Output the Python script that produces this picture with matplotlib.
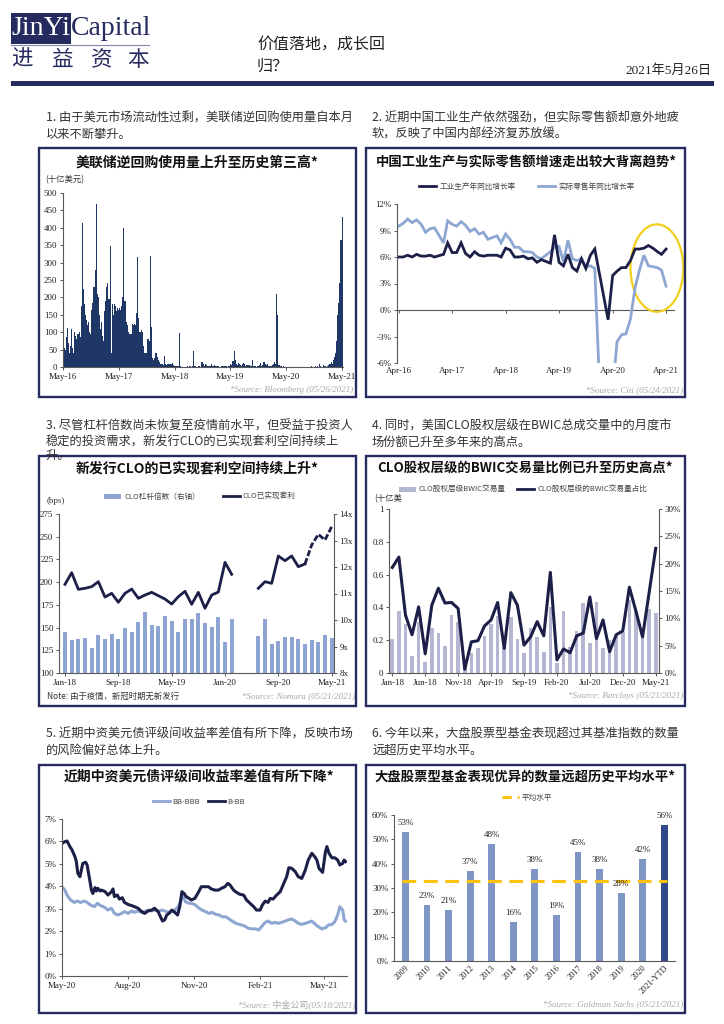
import numpy as np
import pandas as pd
import matplotlib
matplotlib.use('Agg')
import matplotlib.pyplot as plt
from matplotlib.patches import Rectangle, Ellipse, Patch
from matplotlib.lines import Line2D

plt.rcParams['font.family'] = ['Noto Sans CJK SC', 'DejaVu Sans']
plt.rcParams['axes.unicode_minus'] = False
CJK = ['Noto Sans CJK SC', 'DejaVu Sans']
SERIF = ['Liberation Serif', 'Noto Sans CJK SC', 'DejaVu Serif']

# ---------------- DATA ----------------
# Panel 1: Fed reverse repo usage (bn USD), weekly from May-2016
rrp_values = [
    40, 55, 50, 85, 113, 70, 40, 60, 110, 55,
    40, 100, 90, 80, 95, 100, 85, 175, 413, 225,
    180, 150, 135, 120, 130, 100, 95, 165, 185, 230,
    280, 468, 210, 200, 150, 110, 130, 90, 75, 160,
    190, 230, 240, 195, 347, 40, 180, 150, 180, 175,
    160, 170, 165, 170, 165, 175, 200, 398, 190, 130,
    120, 100, 95, 95, 95, 125, 120, 125, 120, 155,
    315, 140, 100, 105, 100, 60, 40, 40, 40, 80,
    80, 75, 320, 115, 25, 20, 25, 40, 30, 20,
    15, 10, 8, 10, 5, 32, 10, 5, 8, 10,
    8, 10, 12, 5, 3, 2, 2, 2, 2, 98,
    2, 1, 1, 1, 1, 1, 2, 1, 3, 2,
    1, 2, 45, 3, 2, 1, 1, 2, 3, 1,
    15, 8, 3, 10, 5, 2, 3, 2, 4, 10,
    3, 2, 5, 3, 2, 2, 1, 1, 2, 3,
    2, 3, 2, 2, 1, 2, 3, 8, 5, 18,
    45, 20, 10, 5, 12, 8, 5, 3, 8, 12,
    10, 4, 6, 7, 5, 3, 2, 20, 3, 2,
    2, 1, 2, 2, 5, 12, 3, 5, 15, 10,
    5, 10, 3, 2, 2, 3, 5, 8, 15, 10,
    210, 150, 5, 3, 2, 1, 2, 1, 1, 1,
    1, 1, 1, 1, 0, 1, 1, 1, 1, 1,
    1, 1, 1, 0, 1, 1, 1, 0, 1, 1,
    1, 1, 2, 1, 1, 1, 2, 1, 2, 1,
    8, 2, 1, 1, 5, 3, 1, 2, 5, 10,
    8, 15, 10, 20, 30, 40, 75, 150, 185, 240, 365, 432]
rrp_ticks = ['2016-05-01', '2017-05-01', '2018-05-01', '2019-05-01', '2020-05-01', '2021-05-01']
rrp_tick_labels = ['May-16', 'May-17', 'May-18', 'May-19', 'May-20', 'May-21']

# Panel 2: China IP yoy vs real retail sales yoy (%), monthly Apr-16 .. Apr-21
ip_yoy = [6.0, 6.0, 6.2, 6.0, 6.3, 6.1, 6.1, 6.2, 6.0,
          None, 6.3, 7.6, 6.5, 6.5, 7.6, 6.4, 6.0, 6.6, 6.2, 6.1, 6.2,
          None, 6.2, 6.0, 7.0, 6.8, 6.0, 6.0, 6.1, 5.8, 5.9, 5.4, 5.7,
          None, 5.3, 8.5, 5.4, 5.0, 6.3, 4.8, 4.4, 5.8, 4.7, 6.2, 6.9,
          None, None, -1.1, 3.9, 4.4, 4.8, 4.8, 5.6, 6.9, 6.9, 7.0, 7.3,
          7.0, 6.6, 6.3, 6.9]
retail_yoy = [9.5, 9.8, 10.3, 9.9, 10.2, 9.7, 8.8, 9.2, 9.3,
              None, 7.6, 10.1, 9.7, 9.5, 10.0, 9.6, 8.9, 9.2, 8.6, 8.8, 8.0,
              None, 8.4, 7.6, 8.6, 8.0, 7.1, 7.1, 6.6, 6.6, 6.5, 6.0, 5.8,
              None, 6.6, 7.1, 7.2, 5.5, 7.9, 5.8, 5.6, 5.8, 4.9, 5.0, 4.7,
              None, -20.5, -18.1, -9.1, -3.6, -2.8, -2.7, -1.0, 2.5, 4.5, 6.2, 5.0,
              4.9, 4.8, 4.5, 2.7]
china_ticks = ['2016-04-01', '2017-04-01', '2018-04-01', '2019-04-01', '2020-04-01', '2021-04-01']
china_tick_labels = ['Apr-16', 'Apr-17', 'Apr-18', 'Apr-19', 'Apr-20', 'Apr-21']
china_ticks_y = [-6, -3, 0, 3, 6, 9, 12]

# Panel 3: CLO leverage (x, right) and realized arbitrage (bps), monthly Jan-18 .. May-21
nan = np.nan
clo_leverage = [9.56, 9.23, 9.27, 9.32, 8.96, 9.42, 9.30, 9.46, 9.27, 9.71, 9.53, 9.94, 10.31,
                9.80, 9.79, 10.15, 9.95, 9.53, 10.04, 10.03, 10.26, 9.90, 9.74, 10.10, 9.18, 10.03,
                nan, nan, nan,
                9.40, 10.03, 9.09, 9.22, 9.35, 9.35, 9.30, 9.11, 9.26, 9.16, 9.42, 9.31]
clo_arb = [197.6, 210.4, 192.1, 193.2, 195.0, 200.5, 183.6, 187.7, 177.8, 187.7, 192.4, 182.2, 185.8,
           188.8, 185.1, 181.4, 175.9, 184.0, 189.9, 175.6, 188.8, 171.2, 185.8, 189.1, 221.8, 208.6,
           nan, nan, nan,
           193.2, 200.5, 198.7, 228.8, 223.6, 228.8, 217.0, 220.0, 240.9, 252.6, 246.4, 261.0]
clo_tick_idx = [0, 8, 16, 24, 32, 40]
clo_tick_labels = ['Jan-18', 'Sep-18', 'May-19', 'Jan-20', 'Sep-20', 'May-21']

# Panel 4: CLO equity BWIC volume (bn USD) and share (%), monthly Jan-18 .. May-21
bwic_vol = [0.205, 0.378, 0.30, 0.104, 0.31, 0.07, 0.276, 0.246, 0.167, 0.354,
            0.313, 0.04, 0.12, 0.152, 0.226, 0.30, 0.35, 0.15, 0.343, 0.207,
            0.12, 0.276, 0.22, 0.126, 0.40, 0.063, 0.378, 0.16, 0.258, 0.425,
            0.185, 0.435, 0.15, 0.20, 0.226, 0.25, 0.445, 0.38, 0.22, 0.388,
            0.368]
bwic_share = [19.3, 21.2, 10.6, 7.0, 12.1, 3.5, 12.4, 15.5, 12.8, 12.9,
              11.8, 0.7, 5.7, 5.9, 8.6, 9.7, 12.9, 4.5, 14.7, 12.4,
              5.1, 6.6, 9.4, 6.8, 18.4, 2.4, 4.4, 3.7, 6.8, 7.3,
              13.9, 6.3, 9.7, 3.9, 7.0, 7.7, 15.7, 11.3, 6.6, 14.7,
              22.8]
bwic_tick_idx = [0, 5, 10, 15, 20, 25, 30, 35, 40]
bwic_tick_labels = ['Jan-18', 'Jun-18', 'Nov-18', 'Apr-19', 'Sep-19', 'Feb-20', 'Jul-20', 'Dec-20', 'May-21']

# Panel 5: Chinese USD bond rating spreads (%), days since 2020-05-01
bbb_days = [0, 4, 7, 12, 17, 21, 26, 31, 35, 40, 45, 49, 54, 60, 64, 69, 73, 78, 83, 87,
            92, 97, 101, 106, 111, 115, 120, 125, 129, 134, 139, 143, 148, 153, 157, 162, 166, 169, 172, 177,
            181, 186, 191, 195, 200, 205, 209, 214, 219, 223, 228, 233, 237, 242, 247, 251, 256, 260, 265, 270,
            274, 278, 283, 287, 292, 297, 301, 306, 311, 315, 320, 325, 329, 334, 339, 343, 348, 353, 357, 362,
            367, 371, 376, 380, 384, 387, 391, 393, 395]
bb_bbb = [3.98, 3.83, 3.61, 3.39, 3.28, 3.34, 3.28, 3.34, 3.28, 3.16,
          3.09, 3.24, 3.14, 3.05, 2.94, 3.02, 2.79, 2.72, 2.79, 2.87,
          2.79, 2.90, 2.84, 2.90, 2.84, 2.87, 2.94, 2.90, 2.94, 2.87,
          2.94, 2.90, 2.84, 2.87, 2.94, 3.09, 3.39, 3.54, 3.31, 3.24,
          3.24, 3.16, 3.02, 2.94, 2.87, 2.79, 2.84, 2.75, 2.72, 2.64,
          2.64, 2.54, 2.45, 2.35, 2.30, 2.27, 2.20, 2.12, 2.10, 2.10,
          2.05, 2.20, 2.39, 2.45, 2.35, 2.39, 2.35, 2.39, 2.45, 2.50,
          2.54, 2.45, 2.35, 2.30, 2.35, 2.39, 2.45, 2.30, 2.20, 2.10,
          2.15, 2.27, 2.30, 2.42, 2.72, 3.09, 2.94, 2.50, 2.45]
bb_days = [0, 4, 7, 11, 14, 18, 20, 22, 25, 27, 29, 33, 35, 39, 41, 43, 46, 48, 50, 53,
           55, 60, 64, 69, 71, 73, 77, 80, 84, 87, 92, 97, 101, 106, 111, 115, 120, 125, 129, 134,
           136, 140, 143, 146, 149, 153, 157, 161, 164, 167, 170, 173, 177, 180, 185, 190, 194, 199, 204, 208,
           213, 218, 222, 227, 231, 234, 239, 243, 248, 253, 257, 262, 267, 271, 276, 279, 283, 287, 290, 294,
           299, 304, 308, 313, 316, 320, 325, 329, 334, 339, 343, 348, 352, 355, 358, 363, 367, 369, 372, 376,
           380, 384, 387, 391, 393, 395]
b_bb = [5.91, 5.99, 6.02, 5.77, 5.62, 5.32, 5.10, 4.58, 4.43, 4.73,
        5.02, 5.07, 4.95, 4.21, 3.83, 3.68, 3.94, 3.79, 3.91, 3.79,
        3.83, 3.76, 3.61, 3.76, 3.88, 3.54, 3.61, 3.43, 3.49, 3.28,
        3.19, 3.14, 3.09, 3.02, 2.87, 2.79, 2.90, 2.94, 3.02, 2.87,
        2.72, 2.45, 2.50, 2.72, 2.79, 2.94, 2.84, 2.72, 3.09, 3.76,
        3.68, 3.54, 3.46, 3.39, 3.46, 3.73, 3.98, 3.98, 3.98, 3.88,
        3.83, 3.83, 3.91, 3.98, 4.13, 4.06, 3.83, 3.73, 3.64, 3.61,
        3.39, 3.24, 3.09, 2.94, 2.94, 3.16, 3.34, 3.28, 3.46, 3.43,
        3.61, 3.76, 4.06, 4.43, 4.83, 4.80, 4.65, 4.43, 4.35, 4.73,
        5.17, 5.47, 5.32, 5.17, 4.80, 4.62, 5.54, 5.77, 5.47, 5.27,
        5.27, 5.17, 4.95, 5.02, 5.17, 5.10]
spread_ticks = ['2020-05-01', '2020-08-01', '2020-11-01', '2021-02-01', '2021-05-01']
spread_tick_labels = ['May-20', 'Aug-20', 'Nov-20', 'Feb-21', 'May-21']

# Panel 6: share of large-cap funds beating benchmark (%)
fund_years = ['2009', '2010', '2011', '2012', '2013', '2014', '2015', '2016', '2017', '2018', '2019', '2020', '2021-YTD']
fund_pct = [53, 23, 21, 37, 48, 16, 38, 19, 45, 38, 28, 42, 56]
fund_avg = 33

# ---------------- STYLE ----------------
NAVY = '#252B5F'
DARK = '#1C1F48'
LIGHT = '#8EA7D2'
AXC = '#595959'
SRC = '#A8A8A8'
W, H = 724, 1024

fig = plt.figure(figsize=(7.24, 10.24), dpi=100)


def rect(x0, y0, x1, y1):
    return [x0 / W, 1 - y1 / H, (x1 - x0) / W, (y1 - y0) / H]


def ftext(x, y, s, **kw):
    kw.setdefault('va', 'center')
    return fig.text(x / W, 1 - y / H, s, **kw)


def box(x0, y0, x1, y1, lw=1.6, ec=NAVY, fc='none', z=1):
    fig.add_artist(Rectangle((x0 / W, 1 - y1 / H), (x1 - x0) / W, (y1 - y0) / H,
                             transform=fig.transFigure, fill=(fc != 'none'), fc=fc,
                             ec=ec, lw=lw, zorder=z))


def style(ax, left=True, bottom=True, right=False):
    for s in ['top', 'right', 'left', 'bottom']:
        ax.spines[s].set_visible(False)
    if left:
        ax.spines['left'].set_visible(True)
    if bottom:
        ax.spines['bottom'].set_visible(True)
    if right:
        ax.spines['right'].set_visible(True)
    for s in ax.spines.values():
        s.set_color(AXC)
        s.set_linewidth(0.8)
    ax.tick_params(labelsize=6.5, labelfontfamily='Liberation Serif', labelcolor='#222222',
                   color=AXC, length=2.5, width=0.7, pad=1.5)
    ax.set_facecolor('none')


def legend_at(ax, handles, labels, cx, cy, colsp=2.5, hl=2.2):
    leg = ax.legend(handles, labels, loc='center', bbox_to_anchor=(cx / W, 1 - cy / H),
                    bbox_transform=fig.transFigure, ncol=len(handles), frameon=False,
                    prop={'family': CJK, 'size': 5.5}, handlelength=hl, columnspacing=colsp,
                    handletextpad=0.4, borderaxespad=0)
    for t in leg.get_texts():
        t.set_color('#444444')
    return leg


def title(cx, cy, s, size=10):
    ftext(cx, cy, s, ha='center', fontsize=size, fontweight='bold', color='#111111')


def source(x, y, s):
    ftext(x, y, s, ha='right', fontsize=6.5, style='italic', color=SRC, family=SERIF)


# ---------------- HEADER ----------------
box(11, 12.5, 71, 43.5, lw=0, ec=NAVY, fc=NAVY)
ftext(41, 28.5, 'JinYi', ha='center', fontsize=20, color='white', family=SERIF)
ftext(71, 28.5, 'Capital', ha='left', fontsize=20, color=NAVY, family=SERIF)
fig.add_artist(Line2D([11 / W, 149 / W], [1 - 45 / H, 1 - 45 / H], transform=fig.transFigure,
                      color='#8088AA', lw=0.8))
for cx, ch in zip([22, 63, 102, 138], ['进', '益', '资', '本']):
    ftext(cx, 60, ch, ha='center', fontsize=15.5, color=NAVY)
ftext(257, 45, '价值落地，成长回', ha='left', fontsize=11.5, color='#222222')
ftext(257, 66, '归？', ha='left', fontsize=11.5, color='#222222')
ftext(712, 71, '2021年5月26日', ha='right', fontsize=9.5, color='#222222', family=SERIF)
box(11, 81, 714, 86, lw=0, ec=NAVY, fc=NAVY)

BODY = dict(ha='left', fontsize=8.8, color='#333333')
ftext(46, 118, '1. 由于美元市场流动性过剩，美联储逆回购使用量自本月', **BODY)
ftext(46, 134, '以来不断攀升。', **BODY)
ftext(372, 118, '2. 近期中国工业生产依然强劲，但实际零售额却意外地疲', **BODY)
ftext(372, 134, '软，反映了中国内部经济复苏放缓。', **BODY)
ftext(46, 426, '3. 尽管杠杆倍数尚未恢复至疫情前水平，但受益于投资人', **BODY)
ftext(46, 442, '稳定的投资需求，新发行CLO的已实现套利空间持续上', **BODY)
ftext(46, 455, '升。', **BODY)
ftext(372, 426, '4. 同时，美国CLO股权层级在BWIC总成交量中的月度市', **BODY)
ftext(372, 442, '场份额已升至多年来的高点。', **BODY)
ftext(46, 734, '5. 近期中资美元债评级间收益率差值有所下降，反映市场', **BODY)
ftext(46, 750, '的风险偏好总体上升。', **BODY)
ftext(372, 734, '6. 今年以来，大盘股票型基金表现超过其基准指数的数量', **BODY)
ftext(372, 750, '远超历史平均水平。', **BODY)

# panel frames
for (x0, y0, x1, y1) in [(39, 148, 356, 397), (366, 148, 685, 397),
                         (39, 456, 356, 706), (366, 456, 685, 706),
                         (39, 765, 356, 1013), (366, 765, 685, 1013)]:
    box(x0, y0, x1, y1, lw=1.7)

# ---------------- PANEL 1 ----------------
ax1 = fig.add_axes(rect(63, 193, 343, 367))
style(ax1)
rrp_dates = pd.date_range('2016-05-01', periods=len(rrp_values), freq='7D')
ax1.bar(rrp_dates, rrp_values, width=7.0, color='#1F3767', linewidth=0)
ax1.set_ylim(0, 500)
ax1.set_yticks(np.arange(0, 501, 50))
ax1.set_xticks(pd.to_datetime(rrp_ticks), rrp_tick_labels)
ax1.set_xlim(pd.Timestamp('2016-05-01'), pd.Timestamp('2021-05-08'))
title(197, 163, '美联储逆回购使用量上升至历史第三高*')
ftext(45, 180, '(十亿美元)', ha='left', fontsize=6, color='#333333')
source(353, 390, '*Source: Bloomberg (05/26/2021)')

# ---------------- PANEL 2 ----------------
ax2 = fig.add_axes(rect(397, 204, 675, 363))
style(ax2, bottom=False)
months = pd.date_range('2016-04-01', '2021-04-01', freq='MS')
s_ip = pd.Series(ip_yoy, index=months, dtype=float).dropna()
s_rt = pd.Series(retail_yoy, index=months, dtype=float).dropna()
ax2.plot(s_rt.index, s_rt.values, color=LIGHT, lw=2.0, solid_joinstyle='miter')
ax2.plot(s_ip.index, s_ip.values, color=DARK, lw=2.0, solid_joinstyle='miter')
ax2.set_ylim(-6, 12)
ax2.set_yticks(china_ticks_y, [f'{v}%' for v in china_ticks_y])
ct = pd.to_datetime(china_ticks)
ax2.set_xticks(ct, china_tick_labels)
ax2.tick_params(axis='x', length=0, pad=3)
ax2.set_xlim(pd.Timestamp('2016-03-20'), pd.Timestamp('2021-06-01'))
ax2.axhline(0, color=AXC, lw=0.8, zorder=1)
ax2.vlines(ct, -0.35, 0, color=AXC, lw=0.7)
ax2.add_patch(Ellipse((0.935, 0.597), 0.19, 0.55, transform=ax2.transAxes, fill=False,
                      ec='#F2CF1D', lw=1.6, clip_on=False))
title(526, 163, '中国工业生产与实际零售额增速走出较大背离趋势*', size=9.6)
legend_at(ax2, [Line2D([], [], color=DARK, lw=2), Line2D([], [], color=LIGHT, lw=2)],
          ['工业生产年同比增长率', '实际零售年同比增长率'], 527, 187, colsp=3)
source(683, 390, '*Source: Citi (05/24/2021)')

# ---------------- PANEL 3 ----------------
ax3 = fig.add_axes(rect(59, 514, 334, 673))
ax3r = ax3.twinx()
style(ax3, right=False)
style(ax3r, left=False, bottom=False, right=True)
k = np.arange(len(clo_arb))
ax3r.bar(k, clo_leverage, width=0.6, color='#8EA5D3', linewidth=0)
arb = np.array(clo_arb)
ax3.plot(k[:37], arb[:37], color=DARK, lw=2.0)
ax3.plot(k[36:], arb[36:], color=DARK, lw=2.0, ls=(0, (2.2, 0.8)))
ax3.set_zorder(ax3r.get_zorder() + 1)
ax3.set_ylim(100, 275)
ax3.set_yticks(np.arange(100, 276, 25))
ax3r.set_ylim(8, 14)
ax3r.set_yticks(np.arange(8, 15, 1), [f'{v}x' for v in range(8, 15)])
ax3.set_xticks(clo_tick_idx, clo_tick_labels)
ax3.set_xlim(-0.9, 40.35)
title(197, 468, '新发行CLO的已实现套利空间持续上升*')
legend_at(ax3, [Patch(fc='#8EA5D3', ec='none'), Line2D([], [], color=DARK, lw=2)],
          ['CLO杠杆倍数（右轴）', 'CLO已实现套利'], 200, 497, colsp=3)
ftext(47, 501, '(bps)', ha='left', fontsize=6.5, color='#333333', family=SERIF)
ftext(47, 696, 'Note: 由于疫情，新冠时期无新发行', ha='left', fontsize=6, color='#333333')
source(355, 696, '*Source: Nomura (05/21/2021)')

# ---------------- PANEL 4 ----------------
ax4 = fig.add_axes(rect(389, 509, 659, 673))
ax4r = ax4.twinx()
style(ax4)
style(ax4r, left=False, bottom=False, right=True)
k4 = np.arange(len(bwic_vol))
ax4.bar(k4, bwic_vol, width=0.55, color='#B4B6D2', linewidth=0)
ax4r.plot(k4, bwic_share, color=DARK, lw=2.2)
ax4.set_ylim(0, 1)
ax4.set_yticks([0, 0.2, 0.4, 0.6, 0.8, 1.0], ['0', '0.2', '0.4', '0.6', '0.8', '1'])
ax4r.set_ylim(0, 30)
ax4r.set_yticks(np.arange(0, 31, 5), [f'{v}%' for v in range(0, 31, 5)])
ax4.set_xticks(bwic_tick_idx, bwic_tick_labels)
ax4.set_xlim(-0.5, 40.5)
title(525, 468, 'CLO股权层级的BWIC交易量比例已升至历史高点*', size=9.6)
legend_at(ax4, [Patch(fc='#B4B6D2', ec='none'), Line2D([], [], color=DARK, lw=2)],
          ['CLO股权层级BWIC交易量', 'CLO股权层级的BWIC交易量占比'], 523, 490, colsp=1.5)
ftext(374, 499, '(十亿美', ha='left', fontsize=6, color='#333333')
source(683, 696, '*Source: Barclays (05/21/2021)')

# ---------------- PANEL 5 ----------------
ax5 = fig.add_axes(rect(62, 819, 347, 976))
style(ax5)
base = pd.Timestamp('2020-05-01')
d_bbb = base + pd.to_timedelta(bbb_days, unit='D')
d_bb = base + pd.to_timedelta(bb_days, unit='D')
ax5.plot(d_bbb, bb_bbb, color=LIGHT, lw=2.2)
ax5.plot(d_bb, b_bb, color=DARK, lw=2.2)
ax5.set_ylim(0, 7)
ax5.set_yticks(range(0, 8), [f'{v}%' for v in range(0, 8)])
ax5.set_xticks(pd.to_datetime(spread_ticks), spread_tick_labels)
ax5.set_xlim(base, base + pd.Timedelta(days=397))
title(199, 777, '近期中资美元债评级间收益率差值有所下降*')
legend_at(ax5, [Line2D([], [], color=LIGHT, lw=2), Line2D([], [], color=DARK, lw=2)],
          ['BB-BBB', 'B-BB'], 199, 802, colsp=1.0)
source(355, 1004, '*Source: 中金公司(05/18/2021)')

# ---------------- PANEL 6 ----------------
ax6 = fig.add_axes(rect(394, 815, 675, 961))
style(ax6)
x6 = np.arange(len(fund_pct))
cols = ['#7F95C5'] * (len(fund_pct) - 1) + ['#2E4A8B']
ax6.bar(x6, fund_pct, width=0.32, color=cols, linewidth=0)
for xi, v in zip(x6, fund_pct):
    ax6.text(xi, v + 2.0, f'{v}%', ha='center', va='bottom', fontsize=6.5,
             family=SERIF, color='#222222')
ax6.axhline(fund_avg, xmin=0.03, xmax=0.97, color='#FFC20E', lw=2.2, ls=(0, (4.5, 2.5)))
ax6.set_ylim(0, 60)
ax6.set_yticks(range(0, 61, 10), [f'{v}%' for v in range(0, 61, 10)])
ax6.set_xticks(x6, fund_years, rotation=45, ha='right', rotation_mode='anchor')
ax6.tick_params(axis='x', labelsize=6, length=0, pad=2)
ax6.set_xlim(-0.53, 12.5)
title(525, 777, '大盘股票型基金表现优异的数量远超历史平均水平*', size=9.6)
legend_at(ax6, [Line2D([], [], color='#FFC20E', lw=2.2, ls=(0, (3, 2)))],
          ['平均水平'], 527, 798)
source(683, 1004, '*Source: Goldman Sachs (05/21/2021)')

fig.savefig('out.png', dpi=100, facecolor='white')
